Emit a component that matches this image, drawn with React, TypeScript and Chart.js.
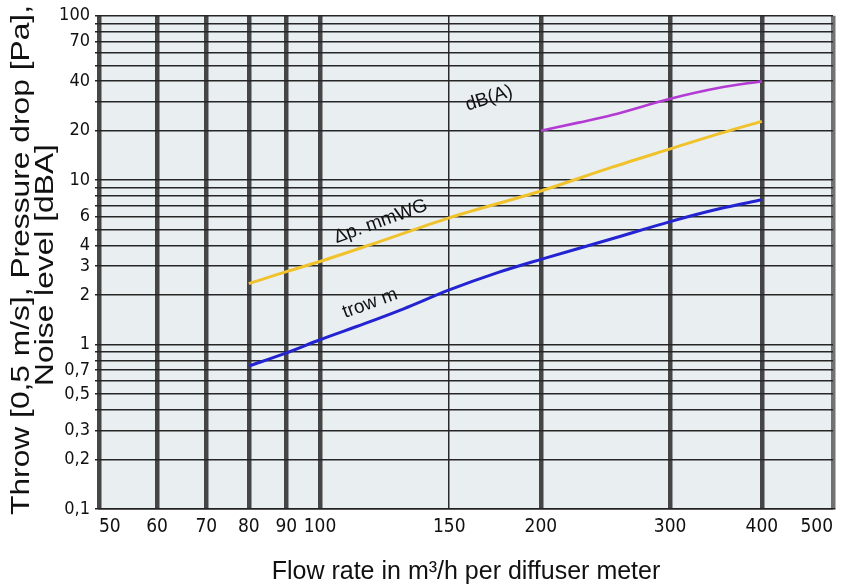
import React, { useEffect, useRef } from 'react';
import { Chart, registerables } from 'chart.js';

Chart.register(...registerables);

// ---- data ----
const xTickValues = [50, 60, 70, 80, 90, 100, 150, 200, 300, 400, 500];
const yTickValues = [
  0.1, 0.2, 0.3, 0.4, 0.5, 0.6, 0.7, 0.8, 0.9,
  1, 2, 3, 4, 5, 6, 7, 8, 9,
  10, 20, 30, 40, 50, 60, 70, 80, 90, 100,
];
const yLabelledTicks = [0.1, 0.2, 0.3, 0.5, 0.7, 1, 2, 3, 4, 6, 10, 20, 40, 70, 100];

const throwFlow = [80, 90, 100, 115, 130, 150, 175, 200, 250, 300, 350, 400];
const throwValues = [0.74, 0.89, 1.07, 1.34, 1.65, 2.15, 2.75, 3.3, 4.4, 5.6, 6.7, 7.6];

const pressureFlow = [80, 90, 100, 120, 150, 200, 250, 300, 350, 400];
const pressureValues = [2.35, 2.78, 3.2, 4.2, 5.9, 8.6, 12, 15.5, 19.2, 22.8];

const noiseFlow = [200, 225, 250, 300, 350, 400];
const noiseValues = [20, 22.4, 24.9, 31.3, 36.5, 40];

const curveLabels = ['dB(A)', 'Δp. mmWG', 'trow m'];
const curveLabelFlow = [170, 121, 117];
const curveLabelValue = [31.5, 5.6, 1.78];
const curveLabelAngle = [-18, -20, -20];

const yTitleLines = ['Throw [0,5 m/s], Pressure drop [Pa],', 'Noise level [dBA]'];
const xTitle = 'Flow rate in m³/h per diffuser meter';

const zip = (xs: number[], ys: number[]) => xs.map((x, i) => ({ x, y: ys[i] }));

const NARROW = "'Liberation Sans Narrow', 'DejaVu Sans Condensed', 'Arial Narrow', sans-serif";
const SANS = "'Liberation Sans', Arial, Helvetica, sans-serif";

const bgPlugin = {
  id: 'plotBg',
  beforeDraw(chart: any) {
    const { ctx, chartArea } = chart;
    ctx.save();
    ctx.fillStyle = '#e9eef1';
    ctx.fillRect(chartArea.left, chartArea.top, chartArea.right - chartArea.left, chartArea.bottom - chartArea.top);
    ctx.restore();
  },
};

const textPlugin = {
  id: 'texts',
  afterDraw(chart: any) {
    const { ctx } = chart;
    const xs = chart.scales.x;
    const ys = chart.scales.y;
    ctx.save();
    ctx.fillStyle = '#111';
    // curve annotations
    ctx.font = `19px ${SANS}`;
    ctx.textAlign = 'center';
    ctx.textBaseline = 'middle';
    curveLabels.forEach((t, i) => {
      const px = xs.getPixelForValue(curveLabelFlow[i]);
      const py = ys.getPixelForValue(curveLabelValue[i]);
      ctx.save();
      ctx.translate(px, py);
      ctx.rotate((curveLabelAngle[i] * Math.PI) / 180);
      ctx.fillText(t, 0, 0);
      ctx.restore();
    });
    // x title
    ctx.font = `25px ${SANS}`;
    ctx.textAlign = 'center';
    ctx.textBaseline = 'alphabetic';
    ctx.fillText(xTitle, 466, 579);
    // y title (two lines, rotated, stretched)
    const baselines = [29, 53];
    const centers = [260, 265];
    yTitleLines.forEach((t, i) => {
      ctx.save();
      ctx.translate(baselines[i], centers[i]);
      ctx.rotate(-Math.PI / 2);
      ctx.scale(1.27, 1);
      ctx.fillText(t, 0, 0);
      ctx.restore();
    });
    ctx.restore();
  },
};

export default function App() {
  const ref = useRef<HTMLCanvasElement | null>(null);

  useEffect(() => {
    if (!ref.current) return;
    const chart = new Chart(ref.current, {
      type: 'line',
      data: {
        datasets: [
          {
            label: 'Throw',
            data: zip(throwFlow, throwValues),
            borderColor: '#2323d2',
            borderWidth: 3,
            pointRadius: 0,
            cubicInterpolationMode: 'monotone',
          },
          {
            label: 'Pressure drop',
            data: zip(pressureFlow, pressureValues),
            borderColor: '#f0c22c',
            borderWidth: 3,
            pointRadius: 0,
            cubicInterpolationMode: 'monotone',
          },
          {
            label: 'Noise level',
            data: zip(noiseFlow, noiseValues),
            borderColor: '#b43ad4',
            borderWidth: 2.6,
            pointRadius: 0,
            cubicInterpolationMode: 'monotone',
          },
        ],
      },
      options: {
        animation: false,
        responsive: true,
        maintainAspectRatio: false,
        layout: { padding: { left: 0, top: 13, right: 14, bottom: 0 } },
        plugins: {
          legend: { display: false },
          tooltip: { enabled: false },
          title: { display: false },
        },
        scales: {
          x: {
            type: 'logarithmic',
            min: 50,
            max: 500,
            afterBuildTicks: (scale: any) => {
              scale.ticks = xTickValues.map((v) => ({ value: v }));
            },
            afterFit: (scale: any) => {
              scale.height = 78;
            },
            ticks: {
              autoSkip: false,
              maxRotation: 0,
              minRotation: 0,
              align: 'inner',
              padding: 7,
              color: '#111',
              font: { family: NARROW, size: 19 },
              callback: (v: any) => String(v),
            },
            grid: {
              drawTicks: false,
              lineWidth: (c: any) => (c.tick && c.tick.value === 150 ? 1.5 : 4.5),
              color: (c: any) =>
                c.tick && c.tick.value === 500
                  ? 'rgba(90,90,90,0.85)'
                  : c.tick && c.tick.value === 150
                  ? '#2a2a2a'
                  : 'rgba(45,45,45,0.88)',
            },
            border: { display: true, color: '#222', width: 1.5 },
          },
          y: {
            type: 'logarithmic',
            min: 0.1,
            max: 100,
            afterBuildTicks: (scale: any) => {
              scale.ticks = yTickValues.map((v) => ({ value: v }));
            },
            afterFit: (scale: any) => {
              scale.width = 99;
            },
            ticks: {
              autoSkip: false,
              padding: 5,
              color: '#111',
              font: { family: NARROW, size: 18 },
              callback: (v: any) => {
                const n = Number(v);
                const hit = yLabelledTicks.find((t) => Math.abs(t - n) < 1e-9);
                return hit !== undefined ? String(hit).replace('.', ',') : '';
              },
            },
            grid: {
              tickLength: 4,
              lineWidth: 1.5,
              color: '#262626',
            },
            border: { display: false },
          },
        },
      },
      plugins: [bgPlugin, textPlugin],
    } as any);
    return () => chart.destroy();
  }, []);

  return (
    <div style={{ position: 'fixed', left: 0, top: 0, width: 847, height: 587, background: '#fff' }}>
      <canvas ref={ref} />
    </div>
  );
}
